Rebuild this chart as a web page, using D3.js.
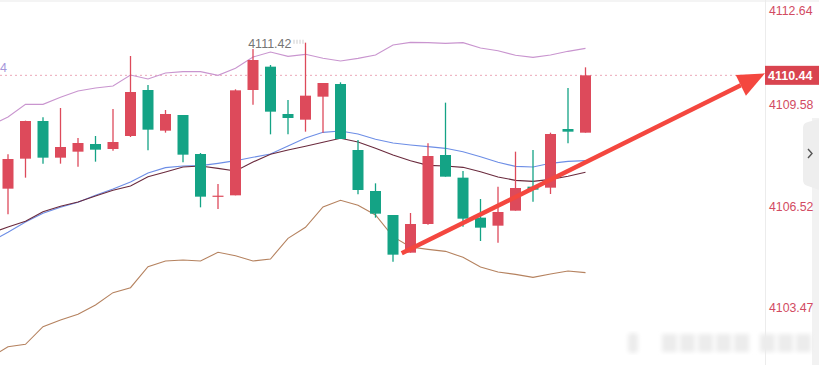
<!DOCTYPE html>
<html lang="en">
<head>
    <meta charset="UTF-8">
    <title>K-line</title>
    <script src="https://d3js.org/d3.v7.min.js"></script>
    <style>
        body { margin: 0; background: #fff; }
        svg { display: block; font-family: "Liberation Sans", Arial, sans-serif; }
    </style>
</head>
<body>
    <svg width="819" height="365"></svg>
    <script>
        // candles: open / high / low / close
        const opens  = [4107.04, 4107.94, 4109.07, 4107.97, 4108.15, 4108.38, 4108.23, 4108.62, 4110.00, 4108.78,
                        4109.25, 4108.08, 4106.82, 4106.84, 4110.00, 4110.70, 4109.28, 4109.11, 4109.80, 4110.18,
                        4108.20, 4106.97, 4106.25, 4105.12, 4105.98, 4108.05, 4107.37, 4106.17, 4105.93, 4106.38,
                        4107.10, 4107.07, 4108.83, 4108.72];
        const highs  = [4108.07, 4109.08, 4109.18, 4109.46, 4108.56, 4108.62, 4109.43, 4111.02, 4110.15, 4109.40,
                        4109.25, 4108.11, 4107.18, 4110.02, 4111.23, 4110.75, 4109.70, 4111.42, 4110.21, 4110.23,
                        4108.50, 4107.20, 4106.25, 4106.31, 4108.40, 4109.62, 4107.57, 4106.73, 4107.10, 4108.15,
                        4108.20, 4108.72, 4110.06, 4110.68];
        const lows   = [4106.27, 4107.37, 4107.79, 4107.79, 4107.70, 4107.85, 4108.18, 4108.59, 4108.19, 4108.72,
                        4107.83, 4106.48, 4106.43, 4106.84, 4109.56, 4108.67, 4108.67, 4108.75, 4108.72, 4108.53,
                        4106.87, 4106.17, 4104.85, 4105.12, 4105.96, 4107.40, 4105.90, 4105.47, 4105.42, 4106.38,
                        4106.65, 4106.88, 4108.40, 4108.72];
        const closes = [4107.93, 4109.07, 4107.97, 4108.29, 4108.41, 4108.21, 4108.44, 4109.94, 4108.81, 4109.28,
                        4108.06, 4106.80, 4106.83, 4109.99, 4110.90, 4109.35, 4109.16, 4109.83, 4110.21, 4108.53,
                        4107.00, 4106.29, 4105.06, 4105.98, 4108.02, 4107.40, 4106.14, 4105.87, 4106.34, 4107.06,
                        4107.01, 4108.68, 4108.75, 4110.44];

        // indicator lines, first value belongs to the bar just left of the view
        const bollUpper = [4108.94, 4109.19, 4109.57, 4109.57, 4109.78, 4109.97, 4110.06, 4110.12, 4110.45, 4110.33,
                           4110.51, 4110.55, 4110.55, 4110.44, 4110.65, 4110.99, 4111.14, 4111.01, 4111.07, 4110.95,
                           4110.87, 4110.95, 4111.05, 4111.35, 4111.43, 4111.42, 4111.40, 4111.42, 4111.26, 4111.18,
                           4111.04, 4110.98, 4111.05, 4111.16, 4111.25];
        const bollLower = [4101.97, 4102.30, 4102.37, 4102.90, 4103.10, 4103.27, 4103.55, 4103.92, 4104.07, 4104.70,
                           4104.87, 4104.90, 4104.87, 4105.13, 4105.03, 4104.87, 4104.93, 4105.55, 4105.88, 4106.49,
                           4106.69, 4106.54, 4106.25, 4105.60, 4105.29, 4105.22, 4105.16, 4104.98, 4104.69, 4104.54,
                           4104.47, 4104.38, 4104.48, 4104.57, 4104.52];
        const maBlue    = [4105.45, 4105.73, 4106.04, 4106.30, 4106.48, 4106.63, 4106.84, 4107.03, 4107.24, 4107.51,
                           4107.67, 4107.72, 4107.73, 4107.80, 4107.88, 4107.98, 4108.08, 4108.32, 4108.56, 4108.73,
                           4108.77, 4108.68, 4108.52, 4108.41, 4108.35, 4108.30, 4108.25, 4108.15, 4108.00, 4107.83,
                           4107.71, 4107.69, 4107.80, 4107.86, 4107.88];
        const maDark    = [4105.70, 4105.89, 4106.06, 4106.35, 4106.51, 4106.64, 4106.82, 4106.99, 4107.12, 4107.40,
                           4107.54, 4107.69, 4107.72, 4107.65, 4107.57, 4107.84, 4108.07, 4108.20, 4108.31, 4108.43,
                           4108.55, 4108.44, 4108.25, 4108.05, 4107.88, 4107.74, 4107.72, 4107.68, 4107.55, 4107.39,
                           4107.29, 4107.26, 4107.32, 4107.41, 4107.53];

        const axisTicks = [4112.64, 4109.58, 4106.52, 4103.47];
        const lastPrice = 4110.44;
        const highMark = { index: 17, value: 4111.42 };
        const arrowFrom = { index: 22.5, value: 4105.10 };
        const arrowTo = { value: 4110.50 };

        const svg = d3.select("svg");
        const width = +svg.attr("width");
        const height = +svg.attr("height");
        const plotRight = 765;

        const x = d3.scaleLinear().domain([0, closes.length - 1]).range([8, 585.5]);
        const y = d3.scaleLinear().domain([4101.75, 4112.70]).range([height, 0]);

        const up = "#dd4a5b", down = "#14a385";

        svg.append("defs").append("clipPath").attr("id", "plot")
            .append("rect").attr("x", 0).attr("y", 0).attr("width", plotRight).attr("height", height);

        // top strip
        svg.append("rect").attr("x", 0).attr("y", 0).attr("width", width).attr("height", 2).attr("fill", "#f4f4f4");

        const main = svg.append("g").attr("clip-path", "url(#plot)");

        // last price dotted line
        main.append("line")
            .attr("x1", 0).attr("x2", plotRight)
            .attr("y1", y(lastPrice)).attr("y2", y(lastPrice))
            .attr("stroke", "#eba8b8").attr("stroke-width", 1).attr("stroke-dasharray", "2,3");

        const lineGen = d3.line().x((d, i) => x(i - 1)).y(d => y(d));
        const series = [
            { data: bollUpper, color: "#c995cf" },
            { data: bollLower, color: "#b5825f" },
            { data: maBlue, color: "#6d8ee6" },
            { data: maDark, color: "#6a2a3d" }
        ];
        main.append("g").selectAll("path")
            .data(series)
            .enter().append("path")
            .attr("d", d => lineGen(d.data))
            .attr("fill", "none")
            .attr("stroke", d => d.color)
            .attr("stroke-width", 1.1);

        const candles = closes.map((c, i) => ({ i, o: opens[i], h: highs[i], l: lows[i], c }));
        const bodyW = 11;
        const cg = main.append("g").selectAll("g")
            .data(candles)
            .enter().append("g");
        cg.append("line")
            .attr("x1", d => x(d.i)).attr("x2", d => x(d.i))
            .attr("y1", d => y(d.h)).attr("y2", d => y(d.l))
            .attr("stroke", d => d.c >= d.o ? up : down)
            .attr("stroke-width", 1.3);
        cg.append("rect")
            .attr("x", d => x(d.i) - bodyW / 2)
            .attr("y", d => y(Math.max(d.o, d.c)))
            .attr("width", bodyW)
            .attr("height", d => Math.max(1.2, Math.abs(y(d.o) - y(d.c))))
            .attr("fill", d => d.c >= d.o ? up : down);

        // highest price marker
        const hx = x(highMark.index), hy = y(highMark.value);
        main.append("line")
            .attr("x1", hx - 12).attr("x2", hx).attr("y1", hy - 1).attr("y2", hy - 1)
            .attr("stroke", "#999").attr("stroke-width", 4).attr("stroke-dasharray", "1,2")
            .attr("opacity", 0.5);
        main.append("text")
            .attr("x", hx - 14).attr("y", hy + 5)
            .attr("text-anchor", "end")
            .attr("font-size", 12.5)
            .attr("fill", "#757575")
            .text(highMark.value.toFixed(2));

        // cut-off label on the left
        main.append("text")
            .attr("x", 7).attr("y", y(lastPrice) - 3)
            .attr("text-anchor", "end")
            .attr("font-size", 12.5)
            .attr("fill", "#a596da")
            .text("4");

        // red trend arrow
        const ax1 = x(arrowFrom.index), ay1 = y(arrowFrom.value);
        const ax2 = plotRight, ay2 = y(arrowTo.value);
        const ang = Math.atan2(ay2 - ay1, ax2 - ax1);
        const headL = 27, headW = 11.5;
        const bx = ax2 - headL * Math.cos(ang), by = ay2 - headL * Math.sin(ang);
        svg.append("line")
            .attr("x1", ax1).attr("y1", ay1).attr("x2", bx).attr("y2", by)
            .attr("stroke", "#f4473f").attr("stroke-width", 4.5);
        svg.append("path")
            .attr("d", d3.line()([
                [ax2, ay2],
                [bx + headW * Math.sin(ang), by - headW * Math.cos(ang)],
                [bx - headW * Math.sin(ang), by + headW * Math.cos(ang)]
            ]) + "Z")
            .attr("fill", "#f4473f");

        // right edge strip and tab (behind labels)
        svg.append("rect").attr("x", 812).attr("y", 118).attr("width", 7).attr("height", height - 118).attr("fill", "#f2f2f2");
        svg.append("path")
            .attr("d", "M803,128 Q803,123 808,122 L819,119 L819,190 L808,186 Q803,185 803,180 Z")
            .attr("fill", "#eeeeee");
        svg.append("path")
            .attr("d", "M808,149 L812,153.5 L808,158")
            .attr("fill", "none").attr("stroke", "#555").attr("stroke-width", 1.4);

        // right axis
        svg.append("line")
            .attr("x1", plotRight + 0.5).attr("x2", plotRight + 0.5)
            .attr("y1", 0).attr("y2", height)
            .attr("stroke", "#ececec");
        svg.append("g").selectAll("text")
            .data(axisTicks)
            .enter().append("text")
            .attr("x", 769)
            .attr("y", d => Math.max(10, y(d)) + 4.5)
            .attr("font-size", 12.3)
            .attr("fill", "#d24b62")
            .text(d => d.toFixed(2));

        svg.append("rect")
            .attr("x", plotRight).attr("y", y(lastPrice) - 9.5)
            .attr("width", width - plotRight).attr("height", 19)
            .attr("fill", "#d9444f");
        svg.append("text")
            .attr("x", 768).attr("y", y(lastPrice) + 4.5)
            .attr("font-size", 12.5)
            .attr("font-weight", "bold")
            .attr("fill", "#fff")
            .text(lastPrice.toFixed(2));

        // blurred watermark
        const blur = svg.select("defs").append("filter").attr("id", "blur");
        blur.append("feGaussianBlur").attr("stdDeviation", 2);
        const wm = svg.append("g").attr("filter", "url(#blur)").attr("fill", "#ececec");
        wm.append("rect").attr("x", 628).attr("y", 333).attr("width", 10).attr("height", 20).attr("rx", 4);
        [662, 680, 698, 716, 734, 760, 778, 796].forEach(px => {
            wm.append("rect").attr("x", px).attr("y", 334).attr("width", 15).attr("height", 18);
        });
    </script>
</body>
</html>
